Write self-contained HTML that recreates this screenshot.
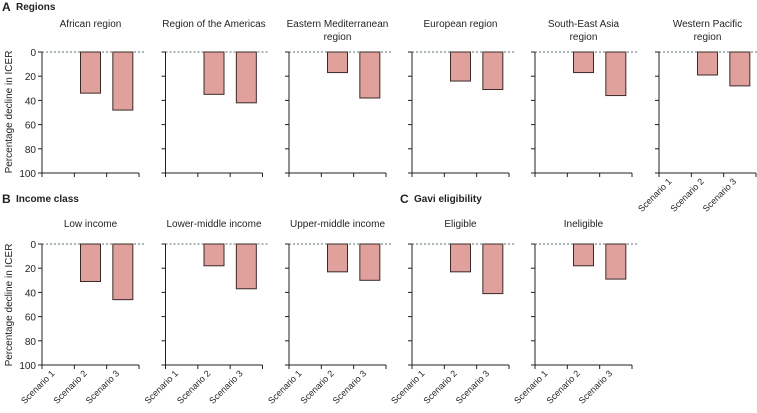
<!DOCTYPE html>
<html><head><meta charset="utf-8"><style>
body{margin:0;background:#fff}
svg text{font-family:"Liberation Sans",sans-serif;fill:#231f20}
</style></head><body>
<svg id="c" width="757" height="408"></svg>
<script>
const panelTitles=[["African region"],["Region of the Americas"],["Eastern Mediterranean","region"],["European region"],["South-East Asia","region"],["Western Pacific","region"],["Low income"],["Lower-middle income"],["Upper-middle income"],["Eligible"],["Ineligible"]];
const scenario2=[34,35,17,24,17,19,31,18,23,23,18];
const scenario3=[48,42,38,31,36,28,46,37,30,41,29];
const scenario1=[0,0,0,0,0,0,0,0,0,0,0];
const categories=["Scenario 1","Scenario 2","Scenario 3"];
const yTicks=[0,20,40,60,80,100];
const NS="http://www.w3.org/2000/svg";
const svg=document.getElementById('c');
function mk(t,a,p){const e=document.createElementNS(NS,t);for(const k in a)e.setAttribute(k,a[k]);(p||svg).appendChild(e);return e;}
const px0=[42,165.5,289,412,535,659,42,165.5,289,412,535];
const row=[0,0,0,0,0,0,1,1,1,1,1];
const W=97;
function yScale(v,r){const top=r?244:52;return top+v*(121/100);}
function xBand(i,x0){return x0+(i+0.5)*W/3;}
[["A","Regions",2,6],["B","Income class",2,198],["C","Gavi eligibility",400,198]].forEach(([l,t,x,y])=>{
 const g=mk('g',{});
 mk('text',{x:x,y:y+5,'font-size':12,'font-weight':'bold'},g).textContent=l;
 mk('text',{x:x+14,y:y+4,'font-size':10,'font-weight':'bold'},g).textContent=t;
});
[112,305].forEach((cy,r)=>{const t=mk('text',{x:0,y:0,'font-size':10,'text-anchor':'middle',transform:`translate(12,${cy}) rotate(-90)`});
t.textContent='Percentage decline in ICER';});
panelTitles.forEach((tt,p)=>{
 const r=row[p],x0=px0[p];
 const g=mk('g',{});
 const ty=r?227:27;
 tt.forEach((s,k)=>{const t=mk('text',{x:x0+W/2,y:ty+k*13,'font-size':10,'text-anchor':'middle'},g);t.textContent=s;});
 mk('line',{x1:x0,x2:x0+W+6,y1:yScale(0,r),y2:yScale(0,r),stroke:'#5a7078','stroke-width':1,'stroke-dasharray':'2,2'},g);
 mk('line',{x1:x0,x2:x0,y1:yScale(0,r),y2:yScale(100,r),stroke:'#231f20','stroke-width':1},g);
 yTicks.forEach(v=>{mk('line',{x1:x0-4,x2:x0,y1:yScale(v,r),y2:yScale(v,r),stroke:'#231f20'},g);
  if(p===0||p===6){const t=mk('text',{x:x0-6,y:yScale(v,r)+4,'font-size':10,'text-anchor':'end'},g);t.textContent=v;}});
 mk('line',{x1:x0,x2:x0+W,y1:yScale(100,r),y2:yScale(100,r),stroke:'#231f20'},g);
 for(let i=0;i<=3;i++)mk('line',{x1:x0+i*W/3,x2:x0+i*W/3,y1:yScale(100,r),y2:yScale(100,r)+4,stroke:'#231f20'},g);
 if(r===1||p===5){categories.forEach((c,i)=>{const cx=xBand(i,x0)-3,cy=yScale(100,r)+9;
  const t=mk('text',{x:cx,y:cy,'font-size':9,'text-anchor':'end',transform:`rotate(-45 ${cx} ${cy})`},g);t.textContent=c;});}
 [scenario1[p],scenario2[p],scenario3[p]].forEach((v,i)=>{if(!v)return;
  const b=mk('rect',{x:xBand(i,x0)-10,y:yScale(0,r),width:20,height:yScale(v,r)-yScale(0,r),fill:'#e0a19c',stroke:'#3b2a2a','stroke-width':1},g);
  });
});
</script>
</body></html>
